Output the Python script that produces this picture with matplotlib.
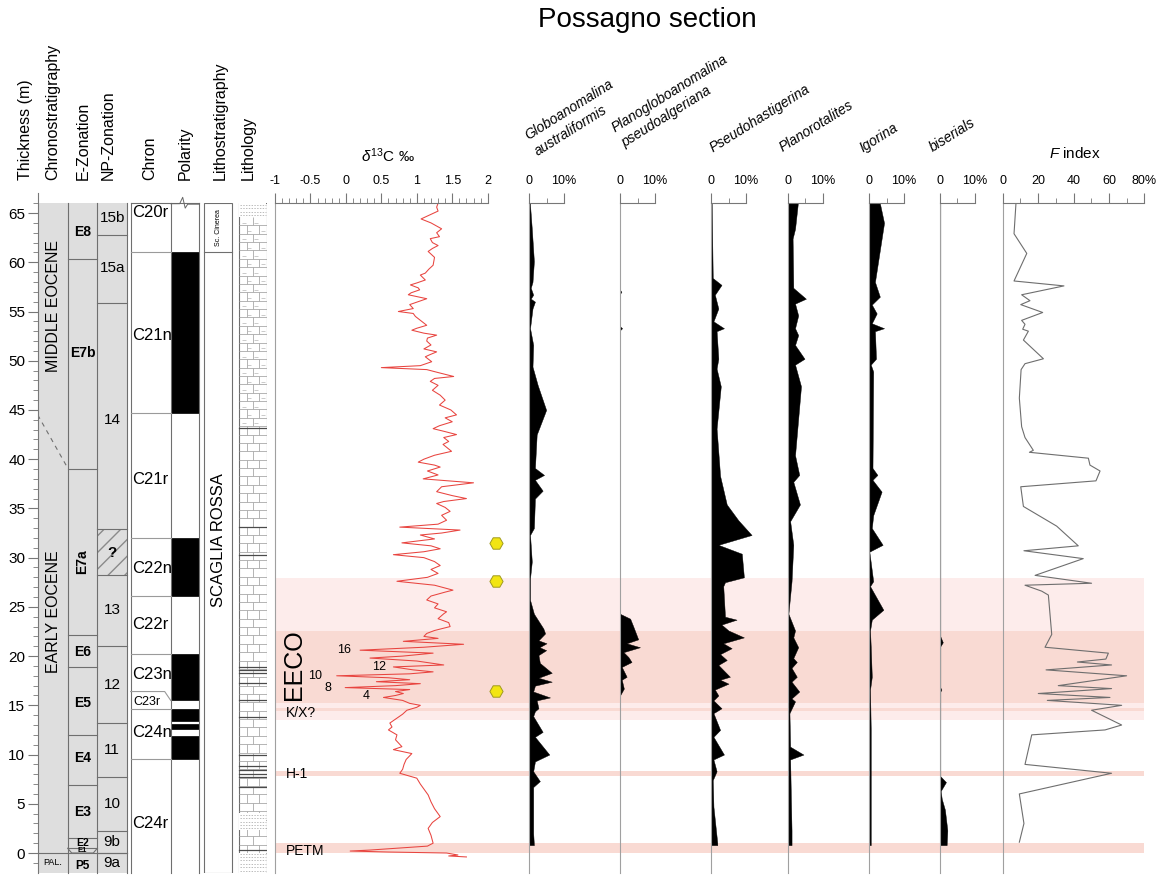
import numpy as np
import matplotlib
matplotlib.use('Agg')
import matplotlib.pyplot as plt
from matplotlib.collections import LineCollection
from matplotlib.patches import Rectangle

plt.rcParams['font.family'] = ['Liberation Sans', 'DejaVu Sans']
plt.rcParams['mathtext.fontset'] = 'custom'
plt.rcParams['mathtext.rm'] = 'Liberation Sans'
plt.rcParams['mathtext.it'] = 'Liberation Sans:italic'

# ---------------------------------------------------------------- data
d13c_depth = [66.0, 65.6, 65.2, 64.4, 64.0, 63.4, 63.0, 62.6, 62.4, 62.0, 61.7, 61.4, 61.1, 60.5,
              59.7, 59.3, 58.9, 58.7, 58.2, 57.9, 57.7, 57.4, 57.2, 56.9, 56.7, 56.3, 56.0, 55.7,
              55.3, 55.0, 54.8, 54.5, 54.1, 53.6, 53.3, 53.1, 52.8, 52.6, 52.3, 52.0, 51.6, 51.2,
              50.9, 50.6, 50.4, 49.9, 49.5, 49.3, 49.1, 48.8, 48.4, 48.2, 47.9, 47.5, 47.0, 46.5,
              46.0, 45.5, 45.0, 44.5, 44.2, 43.8, 43.4, 43.1, 42.8, 42.5, 42.2, 41.8, 41.5, 41.1,
              40.8, 40.4, 40.0, 39.7, 39.4, 39.2, 38.8, 38.4, 38.0, 37.6, 37.2, 36.7, 36.3, 36.0,
              35.7, 35.5, 35.1, 34.7, 34.3, 33.8, 33.4, 33.1, 32.8, 32.5, 32.3, 31.9, 31.5, 31.2,
              30.9, 30.6, 30.3, 30.0, 29.6, 29.2, 28.8, 28.4, 28.0, 27.6, 27.2, 26.7, 26.5, 26.1,
              25.7, 25.3, 24.9, 24.5, 24.3, 23.8, 23.4, 23.0, 22.6, 22.3, 22.0, 21.8, 21.5, 21.2,
              20.9, 20.6, 20.3, 20.0, 19.8, 19.5, 19.1, 18.9, 18.6, 18.4, 18.2, 18.0, 17.8, 17.6,
              17.4, 17.2, 17.0, 16.8, 16.6, 16.4, 16.2, 16.0, 15.8, 15.5, 15.2, 15.0, 14.8, 14.5,
              14.1, 13.6, 13.2, 12.8, 12.5, 12.0, 11.5, 10.8, 10.5, 10.1, 9.5, 9.0, 8.5, 8.1,
              7.6, 7.0, 6.5, 5.9, 5.2, 4.5, 3.7, 3.1, 2.5, 1.8, 1.0, 0.7, 0.3, 0.2, 0.1, 0.0,
              -0.2, -0.3, -0.4]
d13c_value = [1.30, 1.28, 1.30, 1.06, 1.20, 1.35, 1.28, 1.32, 1.19, 1.22, 1.30, 1.22, 1.16, 1.25,
              1.23, 1.17, 1.12, 1.05, 1.12, 1.00, 0.91, 1.02, 1.04, 0.92, 0.88, 1.14, 1.02, 0.90,
              0.95, 0.74, 0.95, 0.98, 1.05, 1.14, 1.00, 0.93, 1.10, 1.28, 1.15, 1.14, 1.20, 1.10,
              1.28, 1.18, 1.12, 1.21, 1.05, 0.50, 1.14, 1.30, 1.52, 1.25, 1.19, 1.30, 1.22, 1.33,
              1.40, 1.32, 1.48, 1.56, 1.40, 1.50, 1.32, 1.23, 1.40, 1.56, 1.38, 1.45, 1.37, 1.44,
              1.49, 1.25, 1.10, 1.02, 1.25, 1.33, 1.15, 1.30, 1.09, 1.80, 1.35, 1.28, 1.50, 1.70,
              1.38, 1.28, 1.40, 1.47, 1.35, 1.42, 1.30, 0.76, 1.61, 1.35, 1.05, 1.25, 0.79, 1.20,
              1.33, 1.10, 0.67, 1.10, 1.25, 1.33, 1.20, 1.30, 1.15, 0.72, 1.25, 1.51, 1.40, 1.20,
              1.14, 1.30, 1.25, 1.42, 1.38, 1.30, 1.45, 1.47, 1.25, 1.14, 1.10, 1.30, 0.81, 1.66,
              1.10, 0.20, 1.23, 0.80, 0.34, 1.00, 1.38, 0.67, 0.95, 1.23, 0.90, -0.13, 0.60, 0.90,
              0.43, 1.05, 0.70, -0.01, 0.90, 0.70, 0.81, 0.70, 0.53, 0.80, 0.90, 1.05, 1.00, 0.86,
              0.80, 0.70, 0.62, 0.65, 0.60, 0.72, 0.70, 0.79, 0.67, 0.93, 0.85, 0.82, 0.80, 0.76,
              1.00, 1.05, 1.10, 1.16, 1.20, 1.25, 1.33, 1.22, 1.16, 1.20, 1.23, 1.15, 0.34, 0.06, 0.60, 1.42,
              1.58, 1.45, 1.70]
d13c_ticklabels = ['-1', '-0.5', '0', '0.5', '1', '1.5', '2']

# cycle labels on the d13C curve
cycle_labels = ['16', '12', '10', '8', '4']
cycle_x = [0.07, 0.56, -0.33, -0.20, 0.34]
cycle_depth = [20.6, 18.9, 18.0, 16.8, 15.9]

hex_depth = [31.5, 27.6, 16.5]
hex_value = [2.12, 2.12, 2.12]

species_names = [['Globoanomalina', 'australiformis'],
                 ['Planogloboanomalina', 'pseudoalgeriana'],
                 ['Pseudohastigerina'], ['Planorotalites'], ['Igorina'], ['biserials']]

globo_depth = [66.0, 65.8, 63.4, 60.1, 58.0, 57.4, 56.7, 56.3, 56.0, 55.3, 53.3, 51.6, 49.4, 47.5,
               45.0, 42.5, 39.1, 38.4, 37.9, 36.8, 36.0, 33.0, 32.3, 29.6, 27.9, 25.7, 24.3, 22.8,
               22.3, 21.6, 21.3, 20.9, 20.6, 20.1, 19.3, 18.3, 17.8, 17.4, 17.0, 16.4, 15.8, 15.5,
               14.7, 14.4, 13.9, 12.3, 11.8, 10.0, 9.3, 8.3, 7.3, 6.7, 4.0, 2.0, 0.8]
globo_pct = [0.3, 0.3, 0.8, 1.4, 1.0, 0.5, 1.2, 0.5, 1.7, 1.0, 0.3, 1.2, 1.0, 2.5,
             4.9, 2.2, 1.7, 4.3, 1.7, 3.9, 1.7, 1.4, 0.3, 0.8, 0.3, 0.3, 1.4, 4.1,
             4.6, 2.7, 5.0, 3.0, 4.9, 2.7, 3.1, 6.5, 2.7, 6.5, 1.7, 1.2, 6.0, 2.2,
             2.7, 1.7, 1.2, 3.9, 1.7, 5.8, 1.7, 1.2, 3.1, 1.2, 1.2, 1.2, 1.4]

plano_depth = [66.0, 57.2, 57.0, 56.8, 53.5, 53.3, 53.1, 24.3, 23.8, 23.0, 21.7, 21.3, 20.9, 20.4,
               19.9, 19.4, 18.9, 17.9, 17.6, 16.7, 16.0, 0.8]
plano_pct = [0.0, 0.0, 0.4, 0.0, 0.0, 0.6, 0.0, 0.0, 2.9, 3.8, 5.2, 1.9, 5.7, 1.0,
             2.4, 3.3, 0.5, 1.9, 0.5, 1.1, 0.0, 0.0]

pseudo_depth = [66.0, 58.4, 57.7, 56.7, 55.3, 54.0, 53.3, 53.0, 50.2, 49.2, 47.4, 43.1, 38.3, 35.4,
                33.8, 32.3, 31.3, 30.4, 28.0, 27.5, 27.1, 24.0, 23.7, 23.2, 22.6, 21.9, 21.3, 20.8,
                20.2, 19.6, 19.1, 17.9, 17.6, 17.2, 16.6, 16.0, 15.5, 14.7, 14.2, 12.5, 11.8, 10.0,
                9.5, 8.3, 7.4, 4.7, 1.0, 0.8]
pseudo_pct = [0.2, 0.5, 3.0, 1.1, 2.1, 0.7, 3.7, 1.6, 2.1, 1.6, 2.8, 1.6, 2.6, 4.5,
              7.8, 11.6, 2.1, 8.8, 9.4, 4.0, 3.5, 4.0, 7.3, 3.0, 5.0, 9.4, 3.5, 5.9,
              2.6, 4.5, 2.1, 5.4, 2.6, 5.0, 1.1, 2.1, 0.7, 3.0, 0.7, 2.6, 0.7, 3.7,
              0.7, 1.6, 0.5, 0.7, 1.8, 1.8]

planor_depth = [66.0, 63.4, 62.4, 57.4, 56.3, 55.8, 54.6, 53.3, 52.6, 51.6, 50.2, 49.6, 47.4, 40.4,
                38.4, 37.7, 35.4, 33.7, 31.3, 27.6, 24.3, 22.6, 21.9, 20.9, 19.8, 19.4, 18.8, 17.9,
                17.4, 16.4, 15.7, 15.4, 14.2, 10.8, 10.0, 9.5, 5.7, 2.3, 0.8]
planor_pct = [2.9, 2.1, 1.4, 1.6, 5.2, 2.1, 3.0, 2.1, 3.0, 2.1, 4.8, 2.1, 3.8, 2.1,
              3.3, 1.6, 3.5, 0.7, 1.6, 1.1, 0.2, 2.1, 1.6, 3.0, 1.6, 2.6, 1.1, 2.6,
              1.1, 3.3, 1.1, 2.1, 0.5, 0.7, 4.5, 0.7, 0.9, 1.1, 1.1]

igor_depth = [66.0, 64.0, 58.0, 56.5, 55.7, 54.8, 53.8, 53.3, 53.0, 50.2, 49.6, 48.9, 39.1, 38.4,
              37.9, 36.7, 34.3, 33.0, 31.3, 30.6, 27.6, 27.1, 24.7, 23.7, 22.6, 20.9, 17.9, 16.6,
              12.5, 0.8]
igor_pct = [3.1, 4.3, 1.7, 3.1, 0.8, 2.2, 0.8, 4.3, 1.7, 2.0, 0.5, 1.2, 1.0, 2.4,
            1.0, 3.6, 1.2, 0.8, 3.9, 0.1, 1.2, 0.3, 4.1, 0.8, 0.3, 0.5, 0.8, 0.3,
            0.5, 0.5]

biser_depth = [66.0, 22.0, 21.4, 21.0, 16.8, 16.6, 16.4, 7.8, 7.2, 6.3, 5.5, 4.4, 2.3, 0.8]
biser_pct = [0.1, 0.1, 0.8, 0.1, 0.1, 0.4, 0.1, 0.1, 1.7, 0.2, 0.5, 1.4, 2.1, 1.9]

species_depths = [globo_depth, plano_depth, pseudo_depth, planor_depth, igor_depth, biser_depth]
species_pcts = [globo_pct, plano_pct, pseudo_pct, planor_pct, igor_pct, biser_pct]

findex_depth = [66.0, 62.9, 60.9, 58.1, 57.6, 56.7, 56.1, 55.7, 54.9, 54.1, 53.7, 53.2, 53.0, 52.1,
                50.2, 49.7, 49.1, 46.2, 43.3, 42.2, 40.9, 40.7, 40.1, 39.4, 38.8, 37.8, 37.2, 35.2,
                33.2, 31.2, 30.7, 29.9, 28.2, 27.4, 27.2, 26.6, 26.2, 22.2, 20.9, 20.3, 19.7, 19.4,
                19.1, 18.6, 18.0, 17.0, 16.7, 16.2, 15.8, 15.5, 15.0, 14.5, 13.0, 12.5, 12.0, 9.0,
                8.1, 6.0, 3.0, 1.1]
findex_value = [7.5, 6.4, 13.6, 6.4, 34.6, 10.7, 15.4, 10.2, 22.6, 10.7, 12.6, 11.3, 14.5, 11.7,
                23.0, 12.6, 10.4, 9.4, 10.7, 12.6, 17.3, 15.1, 48.4, 49.3, 55.0, 52.7, 10.2, 11.7,
                30.5, 42.7, 12.0, 45.5, 18.3, 50.2, 12.6, 22.0, 25.8, 27.7, 23.9, 59.7, 58.3, 42.2,
                61.5, 24.5, 70.0, 31.4, 61.5, 20.1, 60.6, 25.2, 67.2, 50.2, 67.2, 57.8, 16.4, 12.6,
                61.5, 9.4, 12.0, 9.4]
findex_ticks = [0, 20, 40, 60, 80]
findex_ticklabels = ['0', '20', '40', '60', '80%']

# pink event bands (depth intervals)
band_light = [(13.5, 27.9)]
band_dark = [(15.2, 22.5), (14.45, 14.7), (7.8, 8.3), (0.0, 1.0)]
band_labels = ['K/X?', 'H-1', 'PETM']
band_label_depth = [14.2, 8.05, 0.2]

# stratigraphic columns
chrono_labels = ['MIDDLE EOCENE', 'EARLY EOCENE']
chrono_label_depth = [55.6, 24.5]
ezone_bounds = [60.3, 39.0, 22.1, 18.9, 12.0, 6.9, 1.5]
ezone_labels = ['E8', 'E7b', 'E7a', 'E6', 'E5', 'E4', 'E3', 'E2', 'E1', 'P5']
ezone_label_depth = [63.1, 50.8, 29.6, 20.4, 15.2, 9.6, 4.2, 1.0, 0.22, -1.35]
np_bounds = [62.8, 55.9, 32.9, 28.2, 21.05, 13.2, 7.7, 2.2, 0.0]
np_labels = ['15b', '15a', '14', '?', '13', '12', '11', '10', '9b', '9a']
np_label_depth = [64.5, 59.4, 44.0, 30.5, 24.7, 17.1, 10.5, 5.0, 1.1, -1.05]
np_unknown = (28.2, 32.9)
chron_bounds = [61.0, 44.65, 32.0, 26.1, 20.2, 14.6, 9.5]
chron_labels = ['C20r', 'C21n', 'C21r', 'C22n', 'C22r', 'C23n', 'C23r', 'C24n', 'C24r']
chron_label_depth = [65.1, 52.6, 37.9, 28.9, 23.2, 18.1, 15.3, 12.2, 3.0]
polarity_normal = [(44.65, 61.0), (26.1, 32.0), (15.5, 20.2), (13.4, 14.6), (12.55, 13.1), (9.5, 11.9)]
litho_units = ['Sc. Cinerea', 'SCAGLIA ROSSA']
litho_unit_depth = [63.5, 31.8]
litho_unit_bound = 61.0
litho_dark_lines = [43.2, 33.1, 30.3, 18.9, 18.6, 18.3, 17.3, 15.5, 13.8, 10.0, 8.8, 8.4, 8.0, 7.7, 6.7, 0.3]
litho_marl = [(43.2, 64.6)]
litho_dotted = [(64.6, 66.0), (2.3, 4.1), (-2.0, 0.0)]

headers = ['Thickness (m)', 'Chronostratigraphy', 'E-Zonation', 'NP-Zonation', 'Chron',
           'Polarity', 'Lithostratigraphy', 'Lithology']

# ---------------------------------------------------------------- layout
W, H = 1163, 875
fig = plt.figure(figsize=(W / 100, H / 100), dpi=100)
Y_TOP, Y_BOT = 203.2, 872.7
DLIM = (-2, 66)


def rect(x0, x1, y0=Y_TOP, y1=Y_BOT):
    return [x0 / W, 1 - y1 / H, (x1 - x0) / W, (y1 - y0) / H]


def fx(x):
    return x / W


def fy(y):
    return 1 - y / H


LINE = '#777777'

# background band axes
bg = fig.add_axes(rect(275, 1144), zorder=0)
bg.set_xlim(0, 1)
bg.set_ylim(*DLIM)
bg.axis('off')
for a, b in band_light:
    bg.axhspan(a, b, color='#fdeceb', lw=0)
for a, b in band_dark:
    bg.axhspan(a, b, color='#f9dad3', lw=0)

fig.text(fx(647), fy(20), 'Possagno section', ha='center', va='center', fontsize=20)

# ---------------------------------------------------------------- strat columns
sx = fig.add_axes(rect(37.7, 266.7), zorder=2)
sx.set_xlim(37.7, 266.7)
sx.set_ylim(*DLIM)
sx.patch.set_alpha(0)
for s in ['top', 'right', 'bottom']:
    sx.spines[s].set_visible(False)
sx.spines['left'].set_color(LINE)
sx.spines['left'].set_bounds(-2, 67)
sx.set_xticks([])
sx.set_yticks(np.arange(0, 66, 5))
sx.set_yticks(np.arange(-1, 67, 1), minor=True)
sx.tick_params(axis='y', which='major', length=7, width=0.8, color=LINE, labelsize=11, pad=2)
sx.tick_params(axis='y', which='minor', length=3.5, width=0.6, color=LINE)

C0, C1, C2, C3, C4, C5, C6 = 37.7, 67.7, 97.3, 127.0, 130.7, 170.7, 199.3
L0, L1, M0, M1 = 204.3, 232.3, 238.7, 266.7
EL = '#6f6f6f'
sx.add_patch(Rectangle((C0, -2), C3 - C0, 68, facecolor='#dedede', edgecolor='none', zorder=0))
for xv in [C1, C2, C3, C4, C5, C6]:
    sx.plot([xv, xv], [-2, 66], color=EL, lw=0.8, clip_on=False)
sx.plot([C4, C6], [66, 66], color=EL, lw=0.8, clip_on=False)
sx.plot([C0, C3], [0, 0], color=EL, lw=0.8)
sx.plot([C0, C1], [44.5, 39.1], color=EL, lw=0.8, ls=(0, (4, 4)))
sx.text((C0 + C1) / 2, -1.0, 'PAL.', ha='center', va='center', fontsize=6.5)
for lab, d in zip(chrono_labels, chrono_label_depth):
    sx.text((C0 + C1) / 2 + 1, d, lab, rotation=90, ha='center', va='center', fontsize=11.5)

# E zones
for b in ezone_bounds:
    sx.plot([C1, C2], [b, b], color=EL, lw=0.8)
sx.plot([C1, C2], [0.48, 0.48], color=EL, lw=0.8)
sx.plot([C1, C1 + 4, C2 - 4, C2], [0.48, 0.0, 0.0, 0.48], color=EL, lw=0.8)
ez_size = {'E1': 5.5, 'E2': 7.5, 'P5': 8.5}
for lab, d in zip(ezone_labels, ezone_label_depth):
    sx.text((C1 + C2) / 2, d, lab, ha='center', va='center', fontweight='bold',
            fontsize=ez_size.get(lab, 10), rotation=90 if lab == 'E7a' else 0)

# NP zones
for b in np_bounds:
    sx.plot([C2, C3], [b, b], color=EL, lw=0.8)
sx.add_patch(Rectangle((C2, np_unknown[0]), C3 - C2, np_unknown[1] - np_unknown[0],
                       facecolor='#dedede', edgecolor='#8a8a8a', hatch='//', lw=0))
for lab, d in zip(np_labels, np_label_depth):
    sx.text((C2 + C3) / 2, d, lab, ha='center', va='center', fontsize=11,
            fontweight='bold' if lab == '?' else 'normal')

# chron
sx.add_patch(Rectangle((C4, -2), C6 - C4, 68, facecolor='white', edgecolor='none', zorder=0))
for b in chron_bounds:
    sx.plot([C4, C5], [b, b], color='#9a9a9a', lw=0.8)
sx.plot([C4, C5 - 6, C5], [16.4, 16.4, 15.5], color='#9a9a9a', lw=0.8)
for lab, d in zip(chron_labels, chron_label_depth):
    if lab == 'C23r':
        sx.text(C4 + 2.5, d, lab, ha='left', va='center', fontsize=9)
    else:
        sx.text(C4 + 1.5, d, lab, ha='left', va='center', fontsize=12)

# polarity
for a, b in polarity_normal:
    sx.add_patch(Rectangle((C5, a), C6 - C5, b - a, facecolor='black', edgecolor='black', lw=0.5))
sx.plot([C5, C5 + 9, C5 + 12, C5 + 14.5, C5 + 17, C6], [65.95, 65.95, 66.6, 65.5, 65.9, 65.9],
        color='#666', lw=0.7, clip_on=False)

# lithostratigraphy
sx.add_patch(Rectangle((L0, -2), L1 - L0, 68, facecolor='white', edgecolor=EL, lw=0.8))
sx.plot([L0, L1], [litho_unit_bound, litho_unit_bound], color=EL, lw=0.8)
sx.text((L0 + L1) / 2, litho_unit_depth[0], litho_units[0], rotation=90, ha='center',
        va='center', fontsize=5)
sx.text((L0 + L1) / 2, litho_unit_depth[1], litho_units[1], rotation=90, ha='center',
        va='center', fontsize=12)

# lithology (limestone brick pattern)
sx.add_patch(Rectangle((M0, -2), M1 - M0, 68, facecolor='white', edgecolor=EL, lw=0.8, zorder=1))
row_h = 0.85
segs = []
for i, y0 in enumerate(np.arange(0.0, 64.6, row_h)):
    segs.append([(M0, y0), (M1, y0)])
    offs = [0.28, 0.72] if i % 2 == 0 else [0.5]
    y1 = min(y0 + row_h, 64.6)
    for o in offs:
        xv = M0 + o * (M1 - M0)
        segs.append([(xv, y0), (xv, y1)])
sx.add_collection(LineCollection(segs, colors='#a8a8a8', linewidths=0.6, zorder=2))
dash = []
for a, b in litho_marl:
    for i, y0 in enumerate(np.arange(a, b, row_h)):
        yy = y0 + row_h / 2
        for o in ([0.08, 0.5] if i % 2 == 0 else [0.25, 0.75]):
            dash.append([(M0 + o * (M1 - M0) + 1, yy), (M0 + o * (M1 - M0) + 5, yy)])
sx.add_collection(LineCollection(dash, colors='#b5b5b5', linewidths=0.5, zorder=2))
for a, b in litho_dotted:
    sx.add_patch(Rectangle((M0 + 0.5, a), M1 - M0 - 1, b - a, facecolor='white', edgecolor='none', zorder=2.5))
    for yy in np.arange(a + 0.2, b, 0.35):
        sx.plot([M0 + 1, M1 - 1], [yy, yy], color='#a0a0a0', lw=0.5, ls=(0, (2, 2)), zorder=3)
for yy in litho_dark_lines:
    sx.plot([M0, M1], [yy, yy], color='#4a4a4a', lw=0.9, zorder=3)

# headers
header_x = [25.7, 53, 83, 108, 150, 185, 220, 248]
for lab, x in zip(headers, header_x):
    fig.text(fx(x), fy(180), lab, rotation=90, ha='center', va='bottom', fontsize=11.5)

# ---------------------------------------------------------------- d13C
cx = fig.add_axes(rect(275, 487.7), zorder=3)
cx.patch.set_alpha(0)
cx.set_xlim(-1, 2)
cx.set_ylim(*DLIM)
cx.plot(d13c_value, d13c_depth, color='#e8443f', lw=0.75)
cx.plot(hex_value, hex_depth, ls='none', marker='H', ms=9.5, mfc='#f2e512', mec='#a09a20',
        mew=0.7, clip_on=False)
for lab, x, d in zip(cycle_labels, cycle_x, cycle_depth):
    cx.text(x, d, lab, ha='right', va='center', fontsize=9)
cx.text(-0.73, 19.1, 'EECO', rotation=90, ha='center', va='center', fontsize=18)
for lab, d in zip(band_labels, band_label_depth):
    cx.text(-0.84, d, lab, ha='left', va='center', fontsize=10)
cx.xaxis.tick_top()
cx.set_xticks(np.arange(-1, 2.01, 0.5))
cx.set_xticklabels(d13c_ticklabels)
cx.set_xticks(np.arange(-1, 2.01, 0.1), minor=True)
cx.tick_params(axis='x', which='major', length=7, width=0.8, color=LINE, labelsize=9, pad=5)
cx.tick_params(axis='x', which='minor', length=3.5, width=0.6, color=LINE)
cx.set_yticks([])
for s in ['right', 'bottom']:
    cx.spines[s].set_visible(False)
cx.spines['top'].set_color(LINE)
cx.spines['left'].set_color('#a0a0a0')
fig.text(fx(388), fy(156), r'$\delta^{13}$C ‰', ha='center', va='center', fontsize=11)

# ---------------------------------------------------------------- species
bases = [529, 620, 711, 787.7, 869, 940]
name_pos = [[(528, 140), (538, 156)], [(615, 132), (625, 147)], [(713, 152)], [(783, 152)],
            [(863, 152)], [(933, 152)]]
for base, dep, pct, names, pos in zip(bases, species_depths, species_pcts, species_names, name_pos):
    ax = fig.add_axes(rect(base, base + 80), zorder=3)
    ax.patch.set_alpha(0)
    ax.set_xlim(0, 80 / 3.5)
    ax.set_ylim(*DLIM)
    ax.fill_betweenx(dep, 0, pct, color='black', lw=0.3)
    ax.xaxis.tick_top()
    ax.set_xticks([0, 10])
    ax.set_xticklabels(['0', '10%'])
    ax.set_xticks([5], minor=True)
    ax.tick_params(axis='x', which='major', length=7, width=0.8, color=LINE, labelsize=9, pad=5)
    ax.tick_params(axis='x', which='minor', length=3.5, width=0.6, color=LINE)
    ax.set_yticks([])
    for s in ['right', 'bottom']:
        ax.spines[s].set_visible(False)
    ax.spines['top'].set_bounds(0, 10)
    ax.spines['top'].set_color(LINE)
    ax.spines['left'].set_color('#a0a0a0')
    for nm, (px, py) in zip(names, pos):
        fig.text(fx(px), fy(py), nm, rotation=32, rotation_mode='anchor', ha='left',
                 va='baseline', fontsize=10, fontstyle='italic')

# ---------------------------------------------------------------- F index
fxax = fig.add_axes(rect(1002.7, 1144.3), zorder=3)
fxax.patch.set_alpha(0)
fxax.set_xlim(0, 80)
fxax.set_ylim(*DLIM)
fxax.plot(findex_value, findex_depth, color='#6e6e6e', lw=0.8)
fxax.xaxis.tick_top()
fxax.set_xticks(findex_ticks)
fxax.set_xticklabels(findex_ticklabels)
fxax.set_xticks([10, 30, 50, 70], minor=True)
fxax.tick_params(axis='x', which='major', length=7, width=0.8, color=LINE, labelsize=9, pad=5)
fxax.tick_params(axis='x', which='minor', length=3.5, width=0.6, color=LINE)
fxax.set_yticks([])
for s in ['right', 'bottom']:
    fxax.spines[s].set_visible(False)
fxax.spines['top'].set_color(LINE)
fxax.spines['left'].set_color('#a0a0a0')
fig.text(fx(1075), fy(154), r'$F$ index', ha='center', va='center', fontsize=11)

fig.savefig('out.png', dpi=100)
